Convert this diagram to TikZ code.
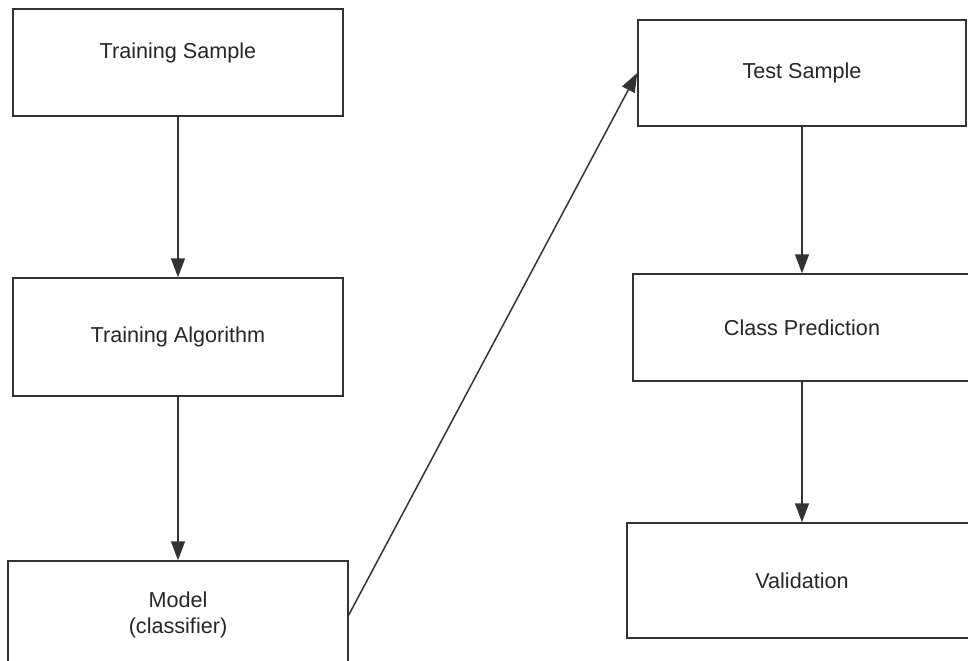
\documentclass[tikz,border=0pt]{standalone}
\usepackage{fontspec}
\setmainfont{Liberation Sans}
\usetikzlibrary{arrows.meta}
\definecolor{linegray}{HTML}{333333}
\tikzset{
  stage/.style={draw=linegray, line width=0.85pt, align=center, inner sep=0pt,
    font=\fontsize{12.3}{14.7}\selectfont, text=black!85},
  flow/.style={-{Triangle[length=0.38cm,width=0.28cm]}, draw=linegray, line width=0.85pt}
}
\begin{document}
\begin{tikzpicture}[x=0.02cm, y=-0.02cm]
  \clip (0,0) rectangle (968,661);

  % training side
  \node[stage, minimum width=6.6cm, minimum height=2.14cm, text height=9pt, text depth=14pt]
    (tsample) at (178,62.5) {Training Sample};
  \node[stage, minimum width=6.6cm, minimum height=2.36cm] (talgo) at (178,337) {Training Algorithm};
  \node[stage, minimum width=6.8cm, minimum height=2.16cm] (model) at (178,615) {Model\\(classifier)};

  % test side
  \node[stage, minimum width=6.56cm, minimum height=2.12cm] (test) at (802,73) {Test Sample};
  \node[stage, minimum width=6.76cm, minimum height=2.14cm] (cpred) at (802,327.5) {Class Prediction};
  \node[stage, minimum width=7.0cm, minimum height=2.3cm] (valid) at (802,580.5) {Validation};

  \draw[flow] (tsample) -- (talgo);
  \draw[flow] (talgo) -- (model);
  \draw[flow] (model.east) -- (test.west);
  \draw[flow] (test) -- (cpred);
  \draw[flow] (cpred) -- (valid);
\end{tikzpicture}
\end{document}
